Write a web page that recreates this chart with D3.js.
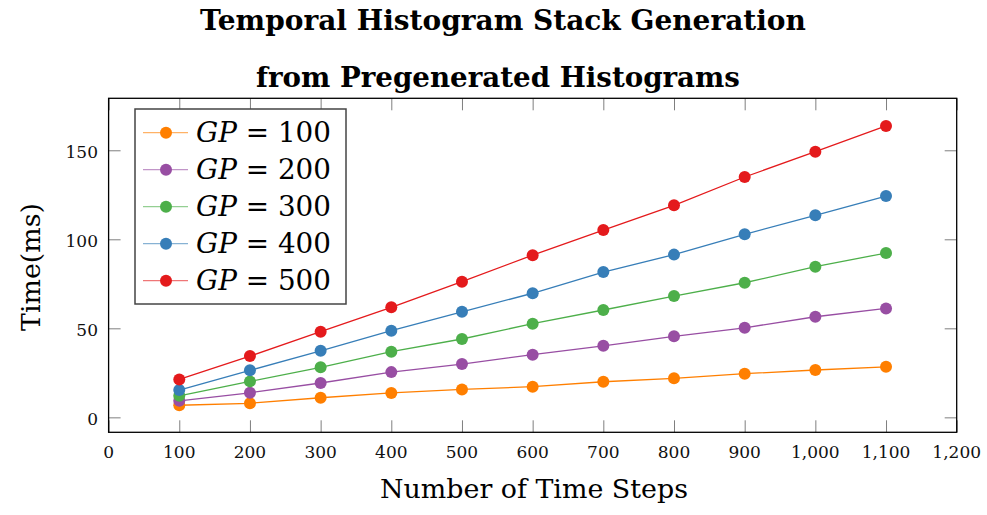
<!DOCTYPE html>
<html>
<head>
<meta charset="utf-8">
<script src="https://cdn.jsdelivr.net/npm/d3@7"></script>
<style>
  body { margin: 0; background: #fff; }
  text, tspan { font-family: "DejaVu Serif", "Liberation Serif", serif; }
</style>
</head>
<body>
<div id="chart"></div>
<script>
// data
const timeSteps = [100, 200, 300, 400, 500, 600, 700, 800, 900, 1000, 1100];
const gp100 = [6.8, 7.9, 11.0, 13.7, 15.7, 17.2, 20.0, 21.9, 24.5, 26.6, 28.4];
const gp200 = [9.3, 13.8, 19.3, 25.4, 29.9, 35.2, 40.2, 45.5, 50.3, 56.5, 61.2];
const gp300 = [12.1, 20.2, 28.1, 36.9, 44.0, 52.6, 60.3, 68.1, 75.6, 84.6, 92.3];
const gp400 = [15.3, 26.4, 37.4, 48.7, 59.3, 69.7, 81.6, 91.4, 102.8, 113.5, 124.3];
const gp500 = [21.3, 34.4, 48.1, 61.8, 76.2, 91.1, 105.2, 119.1, 135.0, 149.2, 163.7];
const seriesNames = ["100", "200", "300", "400", "500"];
const seriesColors = ["#ff7f00", "#984ea3", "#4daf4a", "#377eb8", "#e41a1c"];
const xTicks = [0, 100, 200, 300, 400, 500, 600, 700, 800, 900, 1000, 1100, 1200];
const yTicks = [0, 50, 100, 150];

const allSeries = [gp100, gp200, gp300, gp400, gp500];

const width = 987, height = 515;
const pLeft = 108.6, pRight = 956.7, pTop = 98.3, pBottom = 432.3;

const svg = d3.select("#chart").append("svg")
    .attr("width", width)
    .attr("height", height);

// shrink/grow font so the text is about as wide as in the reference
function fitWidth(sel, target) {
    const fs = +sel.attr("font-size");
    const w = sel.node().getComputedTextLength();
    sel.attr("font-size", (fs * target / w).toFixed(2));
}

const x = d3.scaleLinear().domain([0, 1200]).range([pLeft, pRight]);
const y = d3.scaleLinear().domain([-8.4, 179.2]).range([pBottom, pTop]);

// ticks, pointing inward on all four sides
const tickLen = 12;
const tickColor = "#7f7f7f";
svg.append("g").attr("transform", `translate(0,${pBottom})`)
   .call(d3.axisBottom(x).tickValues(xTicks).tickSizeInner(-tickLen).tickSizeOuter(0).tickFormat(""))
   .call(g => g.select(".domain").remove())
   .call(g => g.selectAll("line").attr("stroke", tickColor));
svg.append("g").attr("transform", `translate(0,${pTop})`)
   .call(d3.axisTop(x).tickValues(xTicks).tickSizeInner(-tickLen).tickSizeOuter(0).tickFormat(""))
   .call(g => g.select(".domain").remove())
   .call(g => g.selectAll("line").attr("stroke", tickColor));
svg.append("g").attr("transform", `translate(${pLeft},0)`)
   .call(d3.axisLeft(y).tickValues(yTicks).tickSizeInner(-tickLen).tickSizeOuter(0).tickFormat(""))
   .call(g => g.select(".domain").remove())
   .call(g => g.selectAll("line").attr("stroke", tickColor));
svg.append("g").attr("transform", `translate(${pRight},0)`)
   .call(d3.axisRight(y).tickValues(yTicks).tickSizeInner(-tickLen).tickSizeOuter(0).tickFormat(""))
   .call(g => g.select(".domain").remove())
   .call(g => g.selectAll("line").attr("stroke", tickColor));

// tick labels
svg.append("g").selectAll("text")
   .data(xTicks).enter().append("text")
   .attr("x", d => x(d))
   .attr("y", 458)
   .attr("text-anchor", "middle")
   .attr("font-size", 17)
   .attr("fill", "#111")
   .text(d => d3.format(",")(d));
svg.append("g").selectAll("text")
   .data(yTicks).enter().append("text")
   .attr("x", 98)
   .attr("y", d => y(d) + 7.5)
   .attr("text-anchor", "end")
   .attr("font-size", 17)
   .attr("fill", "#111")
   .text(d => d);

// frame
svg.append("rect")
   .attr("x", pLeft).attr("y", pTop)
   .attr("width", pRight - pLeft).attr("height", pBottom - pTop)
   .attr("fill", "none").attr("stroke", "#000").attr("stroke-width", 1.3);

// lines + markers
const line = d3.line().x((d, i) => x(timeSteps[i])).y(d => y(d));
allSeries.forEach((vals, k) => {
    svg.append("path")
       .datum(vals)
       .attr("d", line)
       .attr("fill", "none")
       .attr("stroke", seriesColors[k])
       .attr("stroke-width", 1.3);
    svg.append("g").selectAll("circle")
       .data(vals).enter().append("circle")
       .attr("cx", (d, i) => x(timeSteps[i]))
       .attr("cy", d => y(d))
       .attr("r", 6)
       .attr("fill", seriesColors[k]);
});

// legend
const lg = svg.append("g");
lg.append("rect")
  .attr("x", 135).attr("y", 109)
  .attr("width", 211).attr("height", 195)
  .attr("fill", "#fff").attr("stroke", "#444").attr("stroke-width", 1.5);
seriesNames.forEach((name, k) => {
    const cy = 132.7 + k * 37;
    lg.append("line")
      .attr("x1", 143).attr("x2", 188)
      .attr("y1", cy).attr("y2", cy)
      .attr("stroke", seriesColors[k]).attr("stroke-width", 1.3)
      .attr("stroke-opacity", 0.6);
    lg.append("circle")
      .attr("cx", 166).attr("cy", cy).attr("r", 6)
      .attr("fill", seriesColors[k]);
    const t = lg.append("text")
      .attr("x", 196).attr("y", cy + 9.5)
      .attr("font-size", 28);
    t.append("tspan").attr("font-style", "italic").text("GP");
    t.append("tspan").text(" = " + name);
    fitWidth(t, 135);
});

// titles
const t1 = svg.append("text")
   .attr("x", 503).attr("y", 30)
   .attr("text-anchor", "middle")
   .attr("font-size", 26).attr("font-weight", "bold")
   .text("Temporal Histogram Stack Generation");
fitWidth(t1, 606);
const t2 = svg.append("text")
   .attr("x", 498).attr("y", 87)
   .attr("text-anchor", "middle")
   .attr("font-size", 26).attr("font-weight", "bold")
   .text("from Pregenerated Histograms");
fitWidth(t2, 484);

const xl = svg.append("text")
   .attr("x", 534).attr("y", 498)
   .attr("text-anchor", "middle")
   .attr("font-size", 26)
   .text("Number of Time Steps");
fitWidth(xl, 308);
const yl = svg.append("text")
   .attr("transform", "translate(40,267) rotate(-90)")
   .attr("text-anchor", "middle")
   .attr("font-size", 26)
   .text("Time(ms)");
fitWidth(yl, 128);
</script>
</body>
</html>
